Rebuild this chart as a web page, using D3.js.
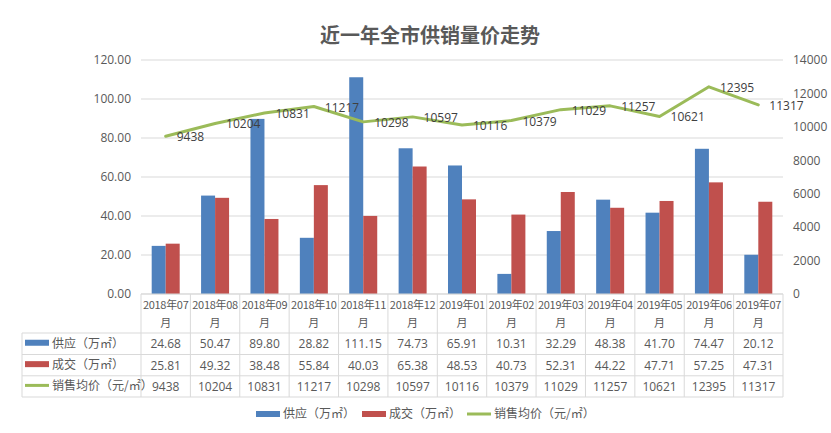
<!DOCTYPE html>
<html><head><meta charset="utf-8">
<script src="https://cdn.jsdelivr.net/npm/d3@7"></script>
<style>
body{margin:0;background:#fff;}
text{font-family:"Noto Sans CJK SC","Noto Sans",sans-serif;}
</style></head><body>
<svg id="c" width="831" height="433"></svg>
<script>
const categories = ["2018年07","2018年08","2018年09","2018年10","2018年11","2018年12","2019年01","2019年02","2019年03","2019年04","2019年05","2019年06","2019年07"];
const supply = [24.68,50.47,89.80,28.82,111.15,74.73,65.91,10.31,32.29,48.38,41.70,74.47,20.12];
const deal = [25.81,49.32,38.48,55.84,40.03,65.38,48.53,40.73,52.31,44.22,47.71,57.25,47.31];
const price = [9438,10204,10831,11217,10298,10597,10116,10379,11029,11257,10621,12395,11317];
const leftTicks = [0,20,40,60,80,100,120];
const rightTicks = [0,2000,4000,6000,8000,10000,12000,14000];
const seriesNames = ["供应（万㎡）","成交（万㎡）","销售均价（元/㎡）"];
const title = "近一年全市供销量价走势";

const colors = ["#4F81BD","#C0504D","#9BBB59"];
const txt = "#595959";
const grid = "#D9D9D9";
const L = 141, R = 783, T = 60, B = 294;
const numFont = "'Open Sans','Noto Sans',sans-serif";

const svg = d3.select("#c");
svg.append("text").attr("x",430).attr("y",43).attr("text-anchor","middle")
  .attr("font-size",20).attr("font-weight","bold").attr("fill",txt).text(title);

const x = d3.scaleBand().domain(categories).range([L,R]).padding(0);
const bw = x.bandwidth();
const x1 = d3.scaleBand().domain([0,1]).range([bw/2-14, bw/2+14]).padding(0);
const yL = d3.scaleLinear().domain([0,120]).range([B,T]);
const yR = d3.scaleLinear().domain([0,14000]).range([B,T]);

// gridlines
svg.append("g").selectAll("line").data(leftTicks).join("line")
  .attr("x1",L).attr("x2",R).attr("y1",d=>yL(d)).attr("y2",d=>yL(d))
  .attr("stroke",grid).attr("stroke-width",1);

// left axis
const gl = svg.append("g").attr("transform",`translate(${L-10},0)`)
  .call(d3.axisLeft(yL).tickValues(leftTicks).tickFormat(d3.format(".2f")).tickSize(0).tickPadding(0));
gl.select(".domain").remove();
gl.selectAll("text").attr("fill",txt).attr("font-size",12).style("font-family",numFont);

// right axis
const gr = svg.append("g").attr("transform",`translate(${R+10},0)`)
  .call(d3.axisRight(yR).tickValues(rightTicks).tickFormat(d3.format("d")).tickSize(0).tickPadding(0));
gr.select(".domain").remove();
gr.selectAll("text").attr("fill",txt).attr("font-size",12).style("font-family",numFont);

// bars
const barData = [supply, deal];
barData.forEach((arr,si)=>{
  svg.append("g").selectAll("rect").data(arr).join("rect")
    .attr("x",(d,i)=>x(categories[i])+x1(si))
    .attr("width",x1.bandwidth())
    .attr("y",d=>yL(d)).attr("height",d=>B-yL(d))
    .attr("fill",colors[si]);
});

// line
const line = d3.line().x((d,i)=>x(categories[i])+bw/2).y(d=>yR(d));
svg.append("path").datum(price).attr("d",line).attr("fill","none")
  .attr("stroke",colors[2]).attr("stroke-width",3).attr("stroke-linejoin","round").attr("stroke-linecap","round");
svg.append("g").selectAll("text").data(price).join("text")
  .attr("x",(d,i)=>x(categories[i])+bw/2+11).attr("y",d=>yR(d)+5)
  .attr("font-size",12).attr("fill","#404040").style("font-family",numFont)
  .text(d=>d);

// table
const tg = svg.append("g");
const rowY = [333, 354.5, 375.8, 397];
const TL = 22;
tg.append("line").attr("x1",L).attr("x2",R).attr("y1",B).attr("y2",B).attr("stroke",grid);
rowY.forEach(y=>tg.append("line").attr("x1",TL).attr("x2",R).attr("y1",y).attr("y2",y).attr("stroke",grid));
const vx = categories.map(c=>x(c)).concat([R]);
tg.selectAll("line.v").data(vx).join("line").attr("class","v")
  .attr("x1",d=>d).attr("x2",d=>d).attr("y1",B).attr("y2",397).attr("stroke",grid);
tg.append("line").attr("x1",TL).attr("x2",TL).attr("y1",333).attr("y2",397).attr("stroke",grid);
tg.selectAll("text.h1").data(categories).join("text").attr("class","h1")
  .attr("x",d=>x(d)+bw/2).attr("y",309).attr("text-anchor","middle")
  .attr("font-size",11).attr("letter-spacing",-0.3).attr("fill",txt).text(d=>d);
tg.selectAll("text.h2").data(categories).join("text").attr("class","h2")
  .attr("x",d=>x(d)+bw/2).attr("y",327).attr("text-anchor","middle")
  .attr("font-size",11).attr("fill",txt).text("月");
const fmt2 = d3.format(".2f");
const rows = [supply.map(fmt2), deal.map(fmt2), price.map(String)];
rows.forEach((r,ri)=>{
  const cy = (rowY[ri]+rowY[ri+1])/2;
  tg.append("g").selectAll("text").data(r).join("text")
    .attr("x",(d,i)=>x(categories[i])+bw/2).attr("y",cy+4.5).attr("text-anchor","middle")
    .attr("font-size",12).attr("fill",txt).style("font-family",numFont).text(d=>d);
  if(ri<2) tg.append("rect").attr("x",25).attr("y",cy-4).attr("width",24).attr("height",6).attr("fill",colors[ri]);
  else tg.append("line").attr("x1",25).attr("x2",49).attr("y1",cy-1).attr("y2",cy-1).attr("stroke",colors[ri]).attr("stroke-width",3);
  tg.append("text").attr("x",52).attr("y",cy+4).attr("font-size",12).attr("fill",txt).text(seriesNames[ri]);
});

// bottom legend
const lg = svg.append("g");
const lx = [256, 362, 467];
seriesNames.forEach((n,i)=>{
  if(i<2) lg.append("rect").attr("x",lx[i]).attr("y",411).attr("width",24).attr("height",6).attr("fill",colors[i]);
  else lg.append("line").attr("x1",lx[i]).attr("x2",lx[i]+24).attr("y1",414).attr("y2",414).attr("stroke",colors[i]).attr("stroke-width",3);
  lg.append("text").attr("x",lx[i]+27).attr("y",418).attr("font-size",12).attr("fill",txt).text(n);
});
</script></body></html>
